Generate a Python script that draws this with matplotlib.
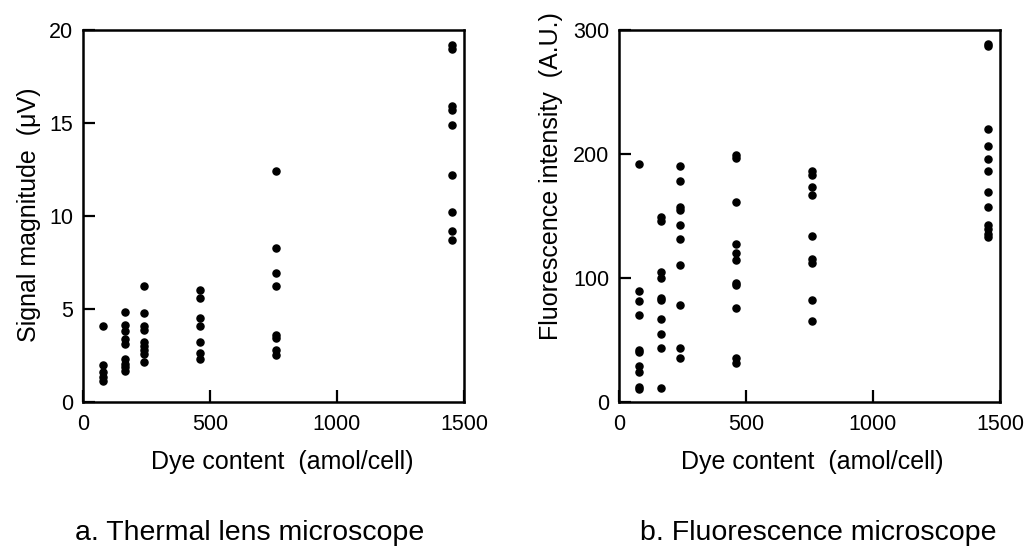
import matplotlib
matplotlib.use('Agg')
import matplotlib.pyplot as plt

plt.rcParams['font.family'] = ['Liberation Sans', 'DejaVu Sans']

# dye content of each cell group (amol/cell)
dye_content = [80, 166, 242, 462, 759, 1453]

# a. thermal lens signal (uV), one list per dye group
thermal_signal = [
    [4.1, 2.0, 1.6, 1.35, 1.1],
    [4.85, 4.15, 3.8, 3.4, 3.1, 2.3, 2.05, 1.85, 1.65],
    [6.2, 4.75, 4.05, 3.85, 3.2, 3.0, 2.8, 2.55, 2.15],
    [6.0, 5.6, 4.5, 4.1, 3.2, 2.6, 2.3],
    [12.4, 8.25, 6.9, 6.2, 3.6, 3.45, 2.8, 2.5],
    [19.2, 19.0, 15.9, 15.7, 14.9, 12.2, 10.2, 9.2, 8.7],
]

# b. fluorescence intensity (A.U.), one list per dye group
fluor_signal = [
    [192, 89, 81, 70, 42, 40, 29, 24, 12, 10],
    [149, 146, 105, 100, 84, 82, 67, 55, 43, 11],
    [190, 178, 157, 155, 143, 131, 110, 78, 43, 35],
    [199, 197, 161, 127, 120, 114, 96, 94, 76, 35, 31],
    [186, 183, 173, 167, 134, 115, 112, 82, 65],
    [289, 287, 220, 206, 196, 186, 169, 157, 143, 139, 135, 133],
]

x_ticks = [0, 500, 1000, 1500]
W, H = 1031, 553


def style_axes(ax, ymax, ystep):
    ax.set_xlim(0, 1500)
    ax.set_ylim(0, ymax)
    ax.set_xticks(x_ticks)
    ax.set_yticks(range(0, ymax + 1, ystep))
    ax.tick_params(direction='in', length=8.5, width=1.6, labelsize=15.5,
                   top=False, right=False)
    ax.tick_params(axis='x', pad=9)
    ax.tick_params(axis='y', pad=7)
    for sp in ax.spines.values():
        sp.set_linewidth(1.8)


def scatter_groups(ax, groups):
    for x, ys in zip(dye_content, groups):
        ax.scatter([x] * len(ys), ys, s=26, color='black', zorder=3)


fig = plt.figure(figsize=(W / 100, H / 100), dpi=100)

ax_w, ax_h = 381 / W, 371.7 / H
bottom = (H - 401.7) / H
ax1 = fig.add_axes([83 / W, bottom, ax_w, ax_h])
ax2 = fig.add_axes([619 / W, bottom, ax_w, ax_h])

scatter_groups(ax1, thermal_signal)
style_axes(ax1, 20, 5)
scatter_groups(ax2, fluor_signal)
style_axes(ax2, 300, 100)

ax1.set_ylabel('Signal magnitude  (\u03bcV)', fontsize=18, va='center')
ax1.yaxis.set_label_coords(-0.142, 0.502)
ax2.set_ylabel('Fluorescence intensity  (A.U.)', fontsize=18, va='center')
ax2.yaxis.set_label_coords(-0.178, 0.606)

for ax, cx in [(ax1, 0.524), (ax2, 0.508)]:
    ax.set_xlabel('Dye content  (amol/cell)', fontsize=18, va='baseline')
    ax.xaxis.set_label_coords(cx, -0.182)

fig.text(250 / W, 1 - 540 / H, 'a. Thermal lens microscope', fontsize=20.5,
         ha='center', va='baseline')
fig.text(818 / W, 1 - 540 / H, 'b. Fluorescence microscope', fontsize=20.5,
         ha='center', va='baseline')

fig.savefig('out.png', dpi=100)
